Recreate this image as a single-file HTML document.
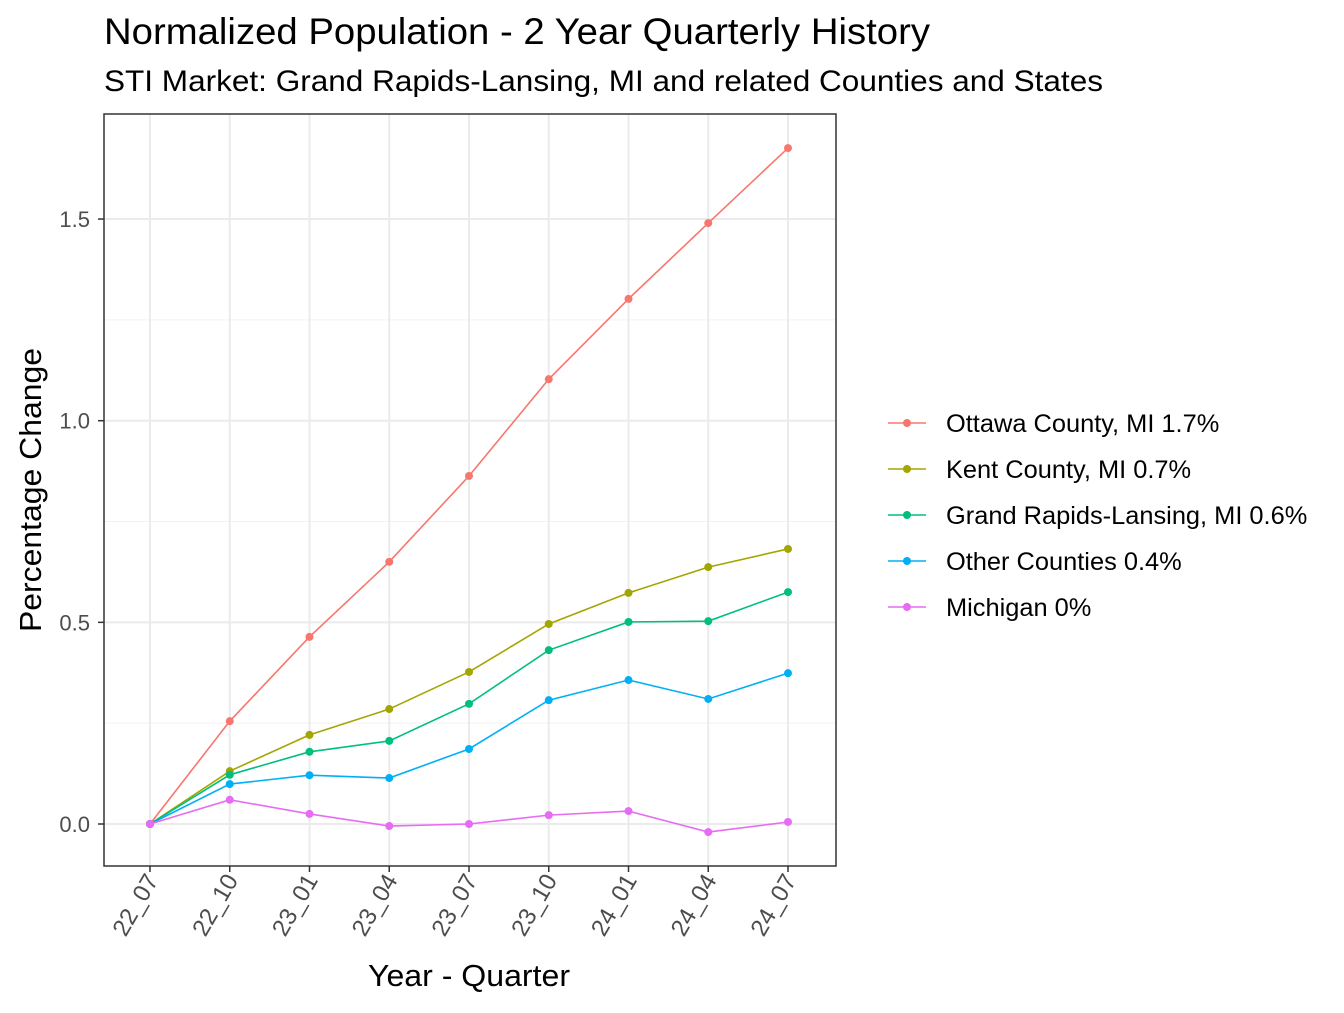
<!DOCTYPE html>
<html><head><meta charset="utf-8"><style>
body{margin:0;background:#fff;font-family:"Liberation Sans",Arial,sans-serif}
</style></head><body>
<svg id="c" width="1344" height="1008" xmlns="http://www.w3.org/2000/svg" font-family="Liberation Sans, Arial, sans-serif">
<text x="104" y="44" font-size="37" textLength="826" lengthAdjust="spacingAndGlyphs" fill="#000">Normalized Population - 2 Year Quarterly History</text>
<text x="104" y="91" font-size="30" textLength="999" lengthAdjust="spacingAndGlyphs" fill="#000">STI Market: Grand Rapids-Lansing, MI and related Counties and States</text>
<g id="grid"></g>
<g id="series"></g>
<rect x="104" y="114" width="732" height="752" fill="none" stroke="#333" stroke-width="1.5"/>
<g id="axes"></g>
<text x="0" y="0" font-size="31" textLength="284" lengthAdjust="spacingAndGlyphs" transform="translate(41,490) rotate(-90)" text-anchor="middle">Percentage Change</text>
<text x="469" y="986" font-size="31" textLength="202" lengthAdjust="spacingAndGlyphs" text-anchor="middle">Year - Quarter</text>
<g id="legend"></g>
</svg>
<script>
const categories=["22_07","22_10","23_01","23_04","23_07","23_10","24_01","24_04","24_07"];
const seriesNames=["Ottawa County, MI 1.7%","Kent County, MI 0.7%","Grand Rapids-Lansing, MI 0.6%","Other Counties 0.4%","Michigan 0%"];
const ottawa=[0,0.255,0.464,0.650,0.863,1.103,1.302,1.490,1.676];
const kent=[0,0.131,0.221,0.285,0.377,0.496,0.573,0.637,0.682];
const grandRapids=[0,0.122,0.179,0.206,0.298,0.431,0.501,0.503,0.575];
const otherCounties=[0,0.099,0.121,0.114,0.186,0.307,0.357,0.310,0.374];
const michigan=[0,0.060,0.025,-0.005,0.0,0.022,0.032,-0.020,0.005];
const yTicks=[0,0.5,1.0,1.5];
const yTickLabels=["0.0","0.5","1.0","1.5"];
const yMinor=[0.25,0.75,1.25];
const colors=["#F8766D","#A3A500","#00BF7D","#00B0F6","#E76BF3"];
const allSeries=[ottawa,kent,grandRapids,otherCounties,michigan];
const NS="http://www.w3.org/2000/svg";
const xs=i=>150+i*(788-150)/(categories.length-1);
const ys=v=>824-v*403.3;
function mk(tag,attrs,parent){const e=document.createElementNS(NS,tag);for(const k in attrs)e.setAttribute(k,attrs[k]);parent.appendChild(e);return e;}
const grid=document.getElementById('grid'),ser=document.getElementById('series'),axes=document.getElementById('axes'),leg=document.getElementById('legend');
yMinor.forEach(v=>{const l=mk('line',{x1:104,x2:836,y1:ys(v),y2:ys(v),stroke:'#f2f2f2','stroke-width':1},grid);

});
yTicks.forEach((v,i)=>{const l=mk('line',{x1:104,x2:836,y1:ys(v),y2:ys(v),stroke:'#ebebeb','stroke-width':2},grid);


const t=mk('line',{x1:98,x2:104,y1:ys(v),y2:ys(v),stroke:'#333','stroke-width':1.5},axes);


const tx=mk('text',{x:90,y:ys(v)+8,'font-size':22,fill:'#4d4d4d','text-anchor':'end'},axes);tx.textContent=yTickLabels[i];

});
categories.forEach((c,i)=>{const x=xs(i);const l=mk('line',{x1:x,x2:x,y1:114,y2:866,stroke:'#ebebeb','stroke-width':2},grid);


const t=mk('line',{x1:x,x2:x,y1:866,y2:872,stroke:'#333','stroke-width':1.5},axes);


const tx=mk('text',{x:0,y:0,'font-size':24,fill:'#4d4d4d','text-anchor':'end',transform:`translate(${x+9},${880}) rotate(-60)`},axes);tx.textContent=c;

});
allSeries.forEach((s,k)=>{const p=mk('polyline',{points:s.map((v,i)=>xs(i)+','+ys(v)).join(' '),fill:'none',stroke:colors[k],'stroke-width':1.6},ser);


s.forEach((v,i)=>{const c=mk('circle',{cx:xs(i),cy:ys(v),r:4,fill:colors[k]},ser);

});
const y=423+k*46;
const g=mk('g',{},leg);


mk('line',{x1:888,x2:926,y1:y,y2:y,stroke:colors[k],'stroke-width':1.6},g);
mk('circle',{cx:907,cy:y,r:4,fill:colors[k]},g);
const t=mk('text',{x:946,y:y+9,'font-size':25.4,fill:'#000'},g);t.textContent=seriesNames[k];});
</script>
</body></html>
